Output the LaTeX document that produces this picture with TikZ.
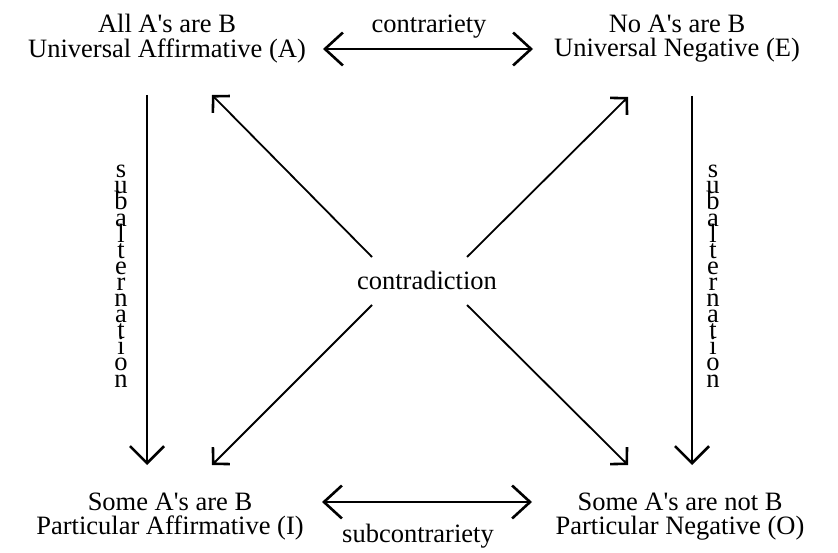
\documentclass[tikz,border=0pt]{standalone}
\usepackage{fontspec}
\setmainfont{Liberation Serif}
\usetikzlibrary{arrows.meta}
\newcommand\vertword[1]{\vbox{\baselineskip=16.1pt\lineskiplimit=-100pt\lineskip=0pt\halign{\hfil##\hfil\cr#1}}}
\begin{document}
\begin{tikzpicture}[x=1pt,y=-1pt,
  lbl/.style={font=\fontsize{26.5}{24.5}\selectfont, inner sep=0pt, align=center},
  vlbl/.style={font=\fontsize{26.5}{16.1}\selectfont, inner sep=0pt, anchor=base},
  shaft/.style={line width=1.8pt},
  vhead/.style={shaft, arrows={-Straight Barb[length=17pt,width=34pt,line width=2.6pt]}},
  hhead/.style={shaft, arrows={Straight Barb[length=18pt,width=33pt,line width=2.6pt]-Straight Barb[length=18pt,width=33pt,line width=2.6pt]}},
  dhead/.style={shaft, arrows={-Straight Barb[length=11.5pt,width=24pt,line width=2.6pt]}}
]
\useasboundingbox (0,0) rectangle (838,553);
% statements
\node[lbl] (A) at (167,38.5) {All A\textquotesingle s are B\\Universal Affirmative (A)};
\node[lbl] (E) at (677,38.5) {No A\textquotesingle s are B\\Universal Negative (E)};
\node[lbl] (I) at (170,516.5) {Some A\textquotesingle s are B\\Particular Affirmative (I)};
\node[lbl] (O) at (680,516.5) {Some A\textquotesingle s are not B\\Particular Negative (O)};
% relation labels
\node[lbl, anchor=base] (contr) at (429,33) {contrariety};
\node[lbl, anchor=base] (subc) at (418,542) {subcontrariety};
\node[lbl, anchor=base] (cd) at (427,290) {contradiction};
\node[vlbl] (sl) at (121,387) {\vertword{s\cr u\cr b\cr a\cr l\cr t\cr e\cr r\cr n\cr a\cr t\cr i\cr o\cr n\cr}};
\node[vlbl] (sr) at (713,387) {\vertword{s\cr u\cr b\cr a\cr l\cr t\cr e\cr r\cr n\cr a\cr t\cr i\cr o\cr n\cr}};
% connector end points
\coordinate (cL) at (323,49);
\coordinate (cR) at (533,49);
\coordinate (sL) at (322,502);
\coordinate (sR) at (532,502);
\coordinate (aT) at (147,95);
\coordinate (aB) at (147,465);
\coordinate (eT) at (692,96);
\coordinate (eB) at (692,465);
\coordinate (dTLs) at (372,257);
\coordinate (dTRs) at (467,257);
\coordinate (dBLs) at (372,305);
\coordinate (dBRs) at (467,305);
\coordinate (dTLe) at (212,95);
\coordinate (dTRe) at (628,97);
\coordinate (dBLe) at (212,465);
\coordinate (dBRe) at (628,465);
% connectors
\draw[hhead] (cL) -- (cR);
\draw[hhead] (sL) -- (sR);
\draw[vhead] (aT) -- (aB);
\draw[vhead] (eT) -- (eB);
\draw[dhead] (dTLs) -- (dTLe);
\draw[dhead] (dTRs) -- (dTRe);
\draw[dhead] (dBLs) -- (dBLe);
\draw[dhead] (dBRs) -- (dBRe);
\end{tikzpicture}
\end{document}
